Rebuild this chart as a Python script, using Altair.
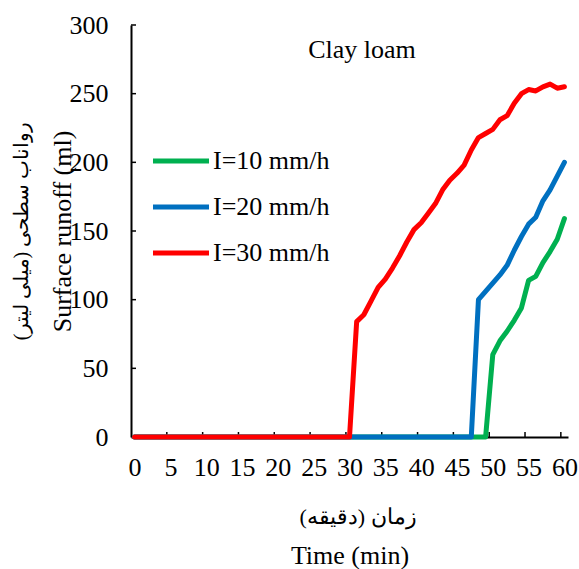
import altair as alt
import pandas as pd

# ---- data ----
minutes = list(range(0, 61))
series_names = ["I=10 mm/h", "I=20 mm/h", "I=30 mm/h"]
series_colors = ["#00B050", "#0070C0", "#FF0000"]

runoff_10 = [0, 0, 0, 0, 0, 0, 0, 0, 0, 0,
             0, 0, 0, 0, 0, 0, 0, 0, 0, 0,
             0, 0, 0, 0, 0, 0, 0, 0, 0, 0,
             0, 0, 0, 0, 0, 0, 0, 0, 0, 0,
             0, 0, 0, 0, 0, 0, 0, 0, 0, 0,
             60, 70, 77, 85, 94, 114, 117, 127, 135, 144, 159]
runoff_20 = [0, 0, 0, 0, 0, 0, 0, 0, 0, 0,
             0, 0, 0, 0, 0, 0, 0, 0, 0, 0,
             0, 0, 0, 0, 0, 0, 0, 0, 0, 0,
             0, 0, 0, 0, 0, 0, 0, 0, 0, 0,
             0, 0, 0, 0, 0, 0, 0, 0,
             100, 106, 112, 118, 125, 136, 146, 155, 160, 172, 180, 190, 200]
runoff_30 = [0, 0, 0, 0, 0, 0, 0, 0, 0, 0,
             0, 0, 0, 0, 0, 0, 0, 0, 0, 0,
             0, 0, 0, 0, 0, 0, 0, 0, 0, 0,
             0,
             84, 89, 99, 109, 115, 123, 132, 142, 151, 156,
             163, 170, 180, 187, 192, 198, 209, 218, 221, 224,
             231, 234, 243, 250, 253, 252, 255, 257, 254, 255]

x_label_values = [0, 5, 10, 15, 20, 25, 30, 35, 40, 45, 50, 55, 60]
x_tick_bounds = [4.5, 9.5, 14.5, 19.5, 24.5, 29.5, 34.5, 39.5, 44.5, 49.5, 54.5, 59.5]
y_values = [0, 50, 100, 150, 200, 250, 300]
y_tick_values = [50, 100, 150, 200, 250, 300]

chart_title = ["Clay loam"]
x_title_en = "Time (min)"
x_title_fa = ["زمان (دقیقه)"]
y_title_en = "Surface runoff (ml)"
y_title_fa = ["رواناب سطحی (میلی لیتر)"]

FONT = "Liberation Serif"
FS = 26

rows = []
for name, vals in zip(series_names, [runoff_10, runoff_20, runoff_30]):
    for m, v in zip(minutes, vals):
        rows.append({"minute": m, "runoff": v, "series": name})
df = pd.DataFrame(rows)

x_scale = alt.Scale(domain=[-0.5, 60.5], nice=False, zero=False)
y_scale = alt.Scale(domain=[0, 300], nice=False)

x_axis = alt.Axis(values=x_label_values, ticks=False, grid=False,
                  domainColor="black", domainWidth=2,
                  labelFont=FONT, labelFontSize=FS, labelColor="black",
                  labelPadding=17, labelFlush=False,
                  title=x_title_en, titleFont=FONT, titleFontSize=FS,
                  titleFontWeight="normal", titleColor="black",
                  titleBaseline="middle", titleY=118)
y_axis = alt.Axis(values=y_values, ticks=False, grid=False,
                  domainColor="black", domainWidth=2,
                  labelFont=FONT, labelFontSize=FS, labelColor="black",
                  labelPadding=23, labelFlush=False,
                  title=y_title_en, titleFont=FONT, titleFontSize=FS,
                  titleFontWeight="normal", titleColor="black",
                  titleBaseline="middle", titleX=-69, titleY=206)

lines = alt.Chart(df).mark_line(
    strokeWidth=5, strokeCap="round", strokeJoin="round"
).encode(
    x=alt.X("minute:Q", scale=x_scale, axis=x_axis),
    y=alt.Y("runoff:Q", scale=y_scale, axis=y_axis),
    color=alt.Color("series:N",
                    scale=alt.Scale(domain=series_names, range=series_colors),
                    legend=alt.Legend(orient="none", legendX=37, legendY=123,
                                      title=None, padding=0,
                                      symbolType="M-2.667,0L2.667,0",
                                      symbolSize=441, symbolStrokeWidth=5,
                                      labelFont=FONT, labelFontSize=FS,
                                      labelColor="black", labelOffset=19,
                                      rowPadding=20)),
)

xticks = alt.Chart(pd.DataFrame({"minute": x_tick_bounds})).mark_rule(
    color="black", strokeWidth=1.5
).encode(
    x=alt.X("minute:Q", scale=x_scale, axis=x_axis),
    y=alt.value(412), y2=alt.value(407),
)

yticks = alt.Chart(pd.DataFrame({"runoff": y_tick_values})).mark_rule(
    color="black", strokeWidth=1.5
).encode(
    y=alt.Y("runoff:Q", scale=y_scale, axis=y_axis),
    x=alt.value(0), x2=alt.value(5),
)

title_text = alt.Chart(pd.DataFrame({"label": chart_title})).mark_text(
    font=FONT, fontSize=FS, color="black", align="center", baseline="middle"
).encode(
    text="label:N",
    x=alt.value(231), y=alt.value(25),
)

x_fa_text = alt.Chart(pd.DataFrame({"label": x_title_fa})).mark_text(
    font=FONT, fontSize=22, color="black", align="center", baseline="middle"
).encode(
    text="label:N",
    x=alt.value(227), y=alt.value(492),
)

y_fa_text = alt.Chart(pd.DataFrame({"label": y_title_fa})).mark_text(
    font=FONT, fontSize=20, color="black", align="center", baseline="middle",
    angle=270
).encode(
    text="label:N",
    x=alt.value(-109), y=alt.value(206),
)

chart = alt.layer(xticks, yticks, lines, title_text, x_fa_text, y_fa_text).properties(
    width=437, height=412,
    autosize=alt.AutoSizeParams(type="none"),
    padding={"left": 131, "top": 25, "right": 11, "bottom": 132},
).configure_view(stroke=None)

chart.save("out.html", embed_options={"renderer": "svg", "actions": False})
